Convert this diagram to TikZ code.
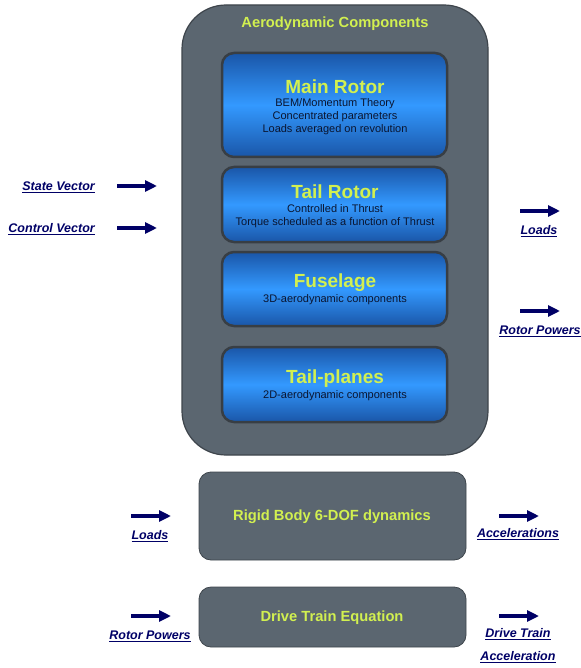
\documentclass[tikz,border=0pt]{standalone}
\usepackage{fontspec}
\setmainfont{Liberation Sans}
\usetikzlibrary{arrows.meta}
\definecolor{boxgray}{HTML}{5B6670}
\definecolor{edgegray}{HTML}{3E454C}
\definecolor{lime}{HTML}{D2F050}
\definecolor{navy}{HTML}{000066}
\definecolor{bluemid}{HTML}{3399FF}
\definecolor{blueedge}{HTML}{1A56A8}
\definecolor{subtxt}{HTML}{0A1530}
\tikzset{
  x=1pt,y=-1pt,
  container/.style={fill=boxgray,draw=edgegray,line width=1.2pt,rounded corners=44pt},
  bluebox/.style={draw=edgegray!90!black,line width=2.5pt,rounded corners=12pt,top color=blueedge,bottom color=blueedge,middle color=bluemid},
  graybox/.style={fill=boxgray,draw=edgegray,line width=0.8pt,rounded corners=12pt},
  ttl/.style={text=lime,font=\bfseries\fontsize{19}{21}\selectfont,inner sep=0pt},
  sub/.style={text=subtxt,font=\fontsize{11}{13}\selectfont,align=center,inner sep=0pt},
  head/.style={text=lime,font=\bfseries\fontsize{14.7}{16}\selectfont,inner sep=0pt},
  lbl/.style={text=navy,font=\bfseries\itshape\fontsize{12.5}{14}\selectfont,inner sep=0pt},
  sig/.style={navy,line width=4pt,-{Triangle[length=12pt,width=11pt]}}
}
\newcommand{\ul}[1]{\underline{#1}}
\begin{document}
\begin{tikzpicture}
\useasboundingbox (0,0) rectangle (580,668);
% container
\draw[container] (182,5) rectangle (488,455);
\node[head] (aero) at (335,24) {Aerodynamic Components};
% blue boxes
\draw[bluebox] (222,53) rectangle (447,157);
\node[ttl] (mr) at (335,87) {Main Rotor};
\node[sub] (mrs) at (335,117) {BEM/Momentum Theory\\Concentrated parameters\\Loads averaged on revolution};
\draw[bluebox] (222,167) rectangle (447,242);
\node[ttl] (tr) at (335,192) {Tail Rotor};
\node[sub] (trs) at (335,216) {Controlled in Thrust\\Torque scheduled as a function of Thrust};
\draw[bluebox] (222,252) rectangle (447,326);
\node[ttl] (fu) at (335,283) {Fuselage};
\node[sub] (fus) at (335,300) {3D-aerodynamic components};
\draw[bluebox] (222,347) rectangle (447,422);
\node[ttl] (tp) at (335,379) {Tail-planes};
\node[sub] (tps) at (335,396) {2D-aerodynamic components};
% lower boxes
\draw[graybox] (199,472) rectangle (466,560);
\node[head] (rb) at (332,517) {Rigid Body 6-DOF dynamics};
\draw[graybox] (199,587) rectangle (466,647);
\node[head] (dt) at (332,618) {Drive Train Equation};
% left inputs
\node[lbl,anchor=east] (sv) at (95,187) {\ul{State Vector}};
\coordinate (sva) at (117,186); \coordinate (svb) at (157,186);
\draw[sig] (sva) -- (svb);
\node[lbl,anchor=east] (cv) at (95,229) {\ul{Control Vector}};
\coordinate (cva) at (117,228); \coordinate (cvb) at (157,228);
\draw[sig] (cva) -- (cvb);
% right outputs
\coordinate (la) at (520,211); \coordinate (lb) at (560,211);
\draw[sig] (la) -- (lb);
\node[lbl] (lo) at (539,231) {\ul{Loads}};
\coordinate (rpa) at (520,311); \coordinate (rpb) at (560,311);
\draw[sig] (rpa) -- (rpb);
\node[lbl] (rp) at (540,331) {\ul{Rotor Powers}};
% rigid body
\coordinate (l2a) at (131,516); \coordinate (l2b) at (171,516);
\draw[sig] (l2a) -- (l2b);
\node[lbl] (lo2) at (150,536) {\ul{Loads}};
\coordinate (aca) at (499,516); \coordinate (acb) at (539,516);
\draw[sig] (aca) -- (acb);
\node[lbl] (ac) at (518,534) {\ul{Accelerations}};
% drive train
\coordinate (rp2a) at (131,616); \coordinate (rp2b) at (171,616);
\draw[sig] (rp2a) -- (rp2b);
\node[lbl] (rp2) at (150,636) {\ul{Rotor Powers}};
\coordinate (dta) at (499,616); \coordinate (dtb) at (539,616);
\draw[sig] (dta) -- (dtb);
\node[lbl] (dt1) at (518,634) {\ul{Drive Train}};
\node[lbl] (dt2) at (518,657) {\ul{Acceleration}};
\end{tikzpicture}
\end{document}
